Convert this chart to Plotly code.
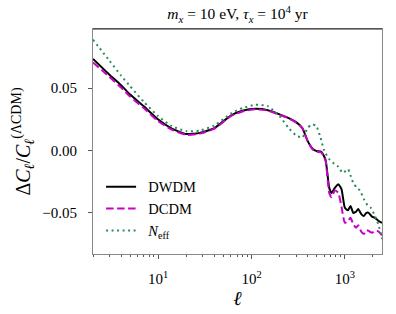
import plotly.graph_objects as go

# multipole values and series
ell_dwdm = [2, 3, 4, 5, 7, 10, 14, 20, 28, 40, 60, 80, 110, 150, 200, 250, 300, 350, 400, 450,
            500, 560, 620, 680, 720, 780, 850, 920, 1000, 1080, 1150, 1230, 1320, 1390, 1500,
            1600, 1700, 1800, 1950, 2100, 2300, 2500]
dwdm = [0.0734, 0.0608, 0.0523, 0.0448, 0.0355, 0.0248, 0.0176, 0.0132, 0.0141, 0.0180, 0.0280,
        0.0318, 0.0334, 0.0323, 0.0290, 0.0260, 0.0227, 0.0180, 0.0075, 0.0014,
        -0.0005, -0.0010, -0.0072, -0.0300, -0.0340, -0.0300, -0.0270, -0.0310, -0.0460, -0.0480,
        -0.0445, -0.0500, -0.0490, -0.0470, -0.0510, -0.0525, -0.0500, -0.0500, -0.0530, -0.0540,
        -0.0565, -0.0580]

ell_dcdm = ell_dwdm
dcdm = [0.0706, 0.0590, 0.0505, 0.0432, 0.0340, 0.0235, 0.0167, 0.0125, 0.0135, 0.0175, 0.0275,
        0.0313, 0.0330, 0.0320, 0.0285, 0.0258, 0.0225, 0.0180, 0.0075, 0.0010,
        -0.0010, -0.0015, -0.0080, -0.0340, -0.0375, -0.0320, -0.0340, -0.0450, -0.0580, -0.0565,
        -0.0540, -0.0590, -0.0620, -0.0600, -0.0650, -0.0670, -0.0640, -0.0645, -0.0660, -0.0645,
        -0.0650, -0.0680]

ell_neff = [2, 3, 4, 5, 7, 10, 14, 20, 28, 40, 60, 80, 110, 150, 200, 250, 300, 350, 400, 440,
            490, 540, 600, 680, 780, 850, 950, 1080, 1150, 1230, 1350, 1450, 1600, 1750, 1900,
            2100, 2300, 2500]
neff = [0.0888, 0.0720, 0.0600, 0.0515, 0.0390, 0.0275, 0.0195, 0.0155, 0.0160, 0.0200, 0.0296,
        0.0340, 0.0366, 0.0355, 0.0275, 0.0180, 0.0120, 0.0105, 0.0180, 0.0208,
        0.0200, 0.0120, 0.0000, -0.0070, -0.0110, -0.0130, -0.0180, -0.0150, -0.0200, -0.0260,
        -0.0300, -0.0320, -0.0390, -0.0440, -0.0460, -0.0525, -0.0600, -0.0710]

series_names = ["\u2002DWDM", "\u2002DCDM", "\u2002<i>N</i><sub>eff</sub>"]
x_tick_vals = [10, 100, 1000]
x_tick_text = ["10<sup>1</sup>", "10<sup>2</sup>", "10<sup>3</sup>"]
x_minor_vals = [2, 3, 4, 5, 6, 7, 8, 9, 20, 30, 40, 50, 60, 70, 80, 90,
                200, 300, 400, 500, 600, 700, 800, 900, 2000]
y_tick_vals = [-0.05, 0.0, 0.05]
y_tick_text = ["\u22120.05", "0.00", "0.05"]

FONT = "Liberation Serif, DejaVu Serif, serif"

fig = go.Figure()
fig.add_trace(go.Scatter(x=ell_dwdm, y=dwdm, mode="lines", name=series_names[0],
                         line=dict(color="black", width=2, shape="spline", smoothing=0.5)))
fig.add_trace(go.Scatter(x=ell_dcdm, y=dcdm, mode="lines", name=series_names[1],
                         line=dict(color="#c800c8", width=2, dash="7.5px,3.5px",
                                   shape="spline", smoothing=0.5)))
fig.add_trace(go.Scatter(x=ell_neff, y=neff, mode="lines", name=series_names[2],
                         line=dict(color="#2e8b57", width=2, dash="2px,3.5px",
                                   shape="spline", smoothing=0.5)))

fig.update_layout(
    width=396, height=314,
    margin=dict(l=93, r=14, t=29, b=60),
    paper_bgcolor="white", plot_bgcolor="white",
    font=dict(family=FONT, size=14, color="black"),
    title=dict(text="<i>m</i><sub><i>x</i></sub> = 10 eV, <i>\u03c4</i><sub><i>x</i></sub> = 10<sup>4</sup> yr",
               x=0.5, xref="paper", xanchor="center", y=1 - 14 / 314, yanchor="middle",
               font=dict(family=FONT, size=15.5)),
    showlegend=True,
    legend=dict(x=0.028, y=0.37, xanchor="left", yanchor="top", bgcolor="rgba(0,0,0,0)",
                font=dict(family=FONT, size=14.5), tracegroupgap=0),
)
fig.update_xaxes(
    type="log", range=[0.30103, 3.398],
    tickvals=x_tick_vals, ticktext=x_tick_text,
    ticks="outside", ticklen=4, tickcolor="#555",
    minor=dict(tickvals=x_minor_vals, ticks="outside", ticklen=2, tickcolor="#555", showgrid=False),
    showline=True, linecolor="#888", linewidth=1, mirror=True,
    showgrid=False, zeroline=False,
    title=dict(text="<i>\u2113</i>", font=dict(family=FONT, size=20), standoff=2),
    tickfont=dict(family=FONT, size=15), ticklabelstandoff=7,
)
fig.update_yaxes(
    range=[-0.083, 0.0974],
    tickvals=y_tick_vals, ticktext=y_tick_text,
    ticks="outside", ticklen=4, tickcolor="#555",
    showline=True, linecolor="#888", linewidth=1, mirror=True,
    showgrid=False, zeroline=False,
    title=dict(text="\u0394<i>C</i><sub><i>\u2113</i></sub>/<i>C</i><sub><i>\u2113</i></sub><sup>(\u039bCDM)</sup>",
               font=dict(family=FONT, size=20), standoff=6),
    tickfont=dict(family=FONT, size=15), ticklabelstandoff=8,
)
fig.add_shape(type="line", xref="paper", yref="paper", x0=0, x1=1, y0=1, y1=1,
              line=dict(color="#222", width=1))

fig.write_html("out.html", config={"displayModeBar": False},
               post_script="document.body.style.margin='0';")
